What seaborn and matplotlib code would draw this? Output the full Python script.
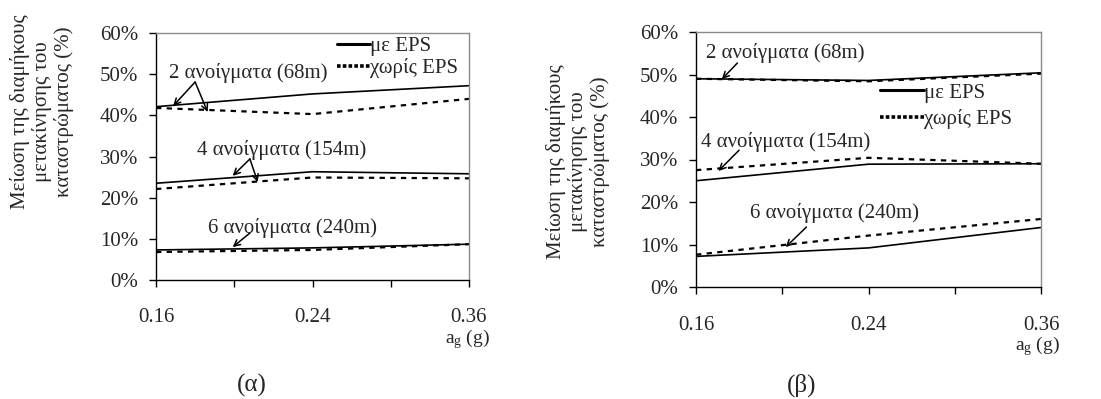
import matplotlib
matplotlib.use("Agg")
import matplotlib.pyplot as plt
import seaborn as sns
import pandas as pd
import numpy as np
from matplotlib.lines import Line2D
from matplotlib.ticker import FuncFormatter, FixedLocator

# ---------------- data ----------------
ag_labels = ["0.16", "0.24", "0.36"]
span_labels = ["2 ανοίγματα (68m)", "4 ανοίγματα (154m)", "6 ανοίγματα (240m)"]
legend_labels = ["με EPS", "χωρίς EPS"]
panel_labels = ["(α)", "(β)"]
ylabel_text = "Μείωση της διαμήκους\nμετακίνησης του\nκαταστρώματος (%)"
xlabel_text = "a$_{\\mathrm{g}}$ (g)"

# panel (α)
a_with_2 = [42.1, 45.2, 47.2]
a_without_2 = [41.8, 40.3, 44.0]
a_with_4 = [23.5, 26.3, 25.8]
a_without_4 = [22.1, 24.9, 24.7]
a_with_6 = [7.3, 7.8, 8.7]
a_without_6 = [6.8, 7.3, 8.7]

# panel (β)
b_with_2 = [49.0, 48.6, 50.4]
b_without_2 = [49.0, 48.4, 50.2]
b_with_4 = [25.0, 28.9, 29.0]
b_without_4 = [27.5, 30.4, 29.0]
b_with_6 = [7.2, 9.2, 14.0]
b_without_6 = [7.6, 12.1, 16.0]

# ---------------- style ----------------
sns.set_theme(style="ticks")
plt.rcParams["font.family"] = ["Liberation Serif", "DejaVu Serif"]
plt.rcParams["mathtext.fontset"] = "custom"
plt.rcParams["mathtext.rm"] = "Liberation Serif"
plt.rcParams["mathtext.it"] = "Liberation Serif:italic"
FS = 15

fig = plt.figure(figsize=(11.01, 3.99), dpi=100)
W, H = 1101, 399


def axes_from_px(l, r, t, b):
    return fig.add_axes([l / W, 1 - b / H, (r - l) / W, (b - t) / H])


axA = axes_from_px(156, 469, 33, 280)
axB = axes_from_px(696, 1041, 32, 287)

dash_style = (0, (2.4, 2.4))


def draw_panel(ax, with_lists, without_lists, xpad):
    rows = []
    for span, yw, yo in zip(span_labels, with_lists, without_lists):
        for lab, vw, vo in zip(ag_labels, yw, yo):
            rows.append(dict(ag=lab, span=span, eps=legend_labels[0], val=vw))
            rows.append(dict(ag=lab, span=span, eps=legend_labels[1], val=vo))
    df = pd.DataFrame(rows)
    for span in span_labels:
        sub = df[(df.span == span) & (df.eps == legend_labels[1])]
        sns.lineplot(data=sub, x="ag", y="val", ax=ax, color="black",
                     lw=1.6, linestyle=dash_style, sort=False, legend=False)
        sub = df[(df.span == span) & (df.eps == legend_labels[0])]
        sns.lineplot(data=sub, x="ag", y="val", ax=ax, color="black",
                     lw=1.2, linestyle="-", sort=False, legend=False)
    ax.set_xlim(0, len(ag_labels) - 1)
    ax.set_ylim(0, 60)
    ax.set_yticks(np.arange(0, 61, 10))
    ax.yaxis.set_major_formatter(FuncFormatter(lambda v, p: f"{v:.0f}%"))
    ax.set_xticks(range(len(ag_labels)))
    ax.set_xticklabels(ag_labels)
    ax.xaxis.set_minor_locator(FixedLocator([0.5, 1.5]))
    ax.tick_params(axis="x", which="both", length=5, width=1, color="black",
                   direction="out", labelsize=FS, pad=xpad)
    ax.tick_params(axis="y", length=5, width=1, color="black",
                   direction="out", labelsize=FS, pad=8)
    ax.set_xlabel("")
    ax.set_ylabel("")
    for s in ["left", "bottom"]:
        ax.spines[s].set_color("black")
        ax.spines[s].set_linewidth(1.0)
    for s in ["top", "right"]:
        ax.spines[s].set_visible(True)
        ax.spines[s].set_color("#8a8a8a")
        ax.spines[s].set_linewidth(1.0)
    ax.grid(False)
    ax.set_facecolor("white")


draw_panel(axA, [a_with_2, a_with_4, a_with_6], [a_without_2, a_without_4, a_without_6], 15)
draw_panel(axB, [b_with_2, b_with_4, b_with_6], [b_without_2, b_without_4, b_without_6], 16)

handles = [Line2D([], [], color="black", lw=2.2, linestyle="-"),
           Line2D([], [], color="black", lw=2.6, linestyle=(0, (1.0, 0.6)))]


def add_legend(ax, anchor, spacing, hl):
    leg = ax.legend(handles, legend_labels, loc="upper right", bbox_to_anchor=anchor,
                    frameon=False, fontsize=FS, handlelength=hl, handletextpad=0.0,
                    labelspacing=spacing, borderaxespad=0.0, borderpad=0.0)
    return leg


add_legend(axA, (0.965, 0.985), 0.1, 1.6)
add_legend(axB, (0.915, 0.80), 0.3, 2.1)

arrow_kw = dict(arrowstyle="->", color="black", lw=1.1, shrinkA=0, shrinkB=0,
                mutation_scale=11)

# panel (α) annotations
axA.text(0.59, 50.3, span_labels[0], ha="center", va="center", fontsize=FS)
axA.annotate("", xy=(0.11, 42.3), xytext=(0.25, 48.1), arrowprops=arrow_kw)
axA.annotate("", xy=(0.33, 40.8), xytext=(0.25, 48.1), arrowprops=arrow_kw)
axA.text(0.80, 31.6, span_labels[1], ha="center", va="center", fontsize=FS)
axA.annotate("", xy=(0.49, 25.3), xytext=(0.60, 29.4), arrowprops=arrow_kw)
axA.annotate("", xy=(0.65, 23.8), xytext=(0.60, 29.4), arrowprops=arrow_kw)
axA.text(0.87, 12.6, span_labels[2], ha="center", va="center", fontsize=FS)
axA.annotate("", xy=(0.49, 8.0), xytext=(0.60, 11.4), arrowprops=arrow_kw)

# panel (β) annotations
axB.text(0.52, 55.1, span_labels[0], ha="center", va="center", fontsize=FS)
axB.annotate("", xy=(0.15, 48.9), xytext=(0.24, 52.7), arrowprops=arrow_kw)
axB.text(0.52, 34.1, span_labels[1], ha="center", va="center", fontsize=FS)
axB.annotate("", xy=(0.13, 27.3), xytext=(0.25, 32.2), arrowprops=arrow_kw)
axB.text(0.80, 17.4, span_labels[2], ha="center", va="center", fontsize=FS)
axB.annotate("", xy=(0.52, 9.4), xytext=(0.64, 14.1), arrowprops=arrow_kw)

# x-axis labels
axA.text(1.067, -0.24, xlabel_text, transform=axA.transAxes, ha="right",
         va="center", fontsize=FS - 1)
axB.text(1.055, -0.23, xlabel_text, transform=axB.transAxes, ha="right",
         va="center", fontsize=FS - 1)

# y-axis labels
fig.text(42 / W, 1 - 112 / H, ylabel_text, rotation=90, ha="center", va="center",
         multialignment="center", fontsize=FS, linespacing=1.1)
fig.text(578 / W, 1 - 162 / H, ylabel_text, rotation=90, ha="center", va="center",
         multialignment="center", fontsize=FS, linespacing=1.1)

# panel captions
fig.text(252 / W, 1 - 385 / H, panel_labels[0], ha="center", va="center", fontsize=18)
fig.text(802 / W, 1 - 385 / H, panel_labels[1], ha="center", va="center", fontsize=18)

fig.savefig("out.png", dpi=100, facecolor="white")
